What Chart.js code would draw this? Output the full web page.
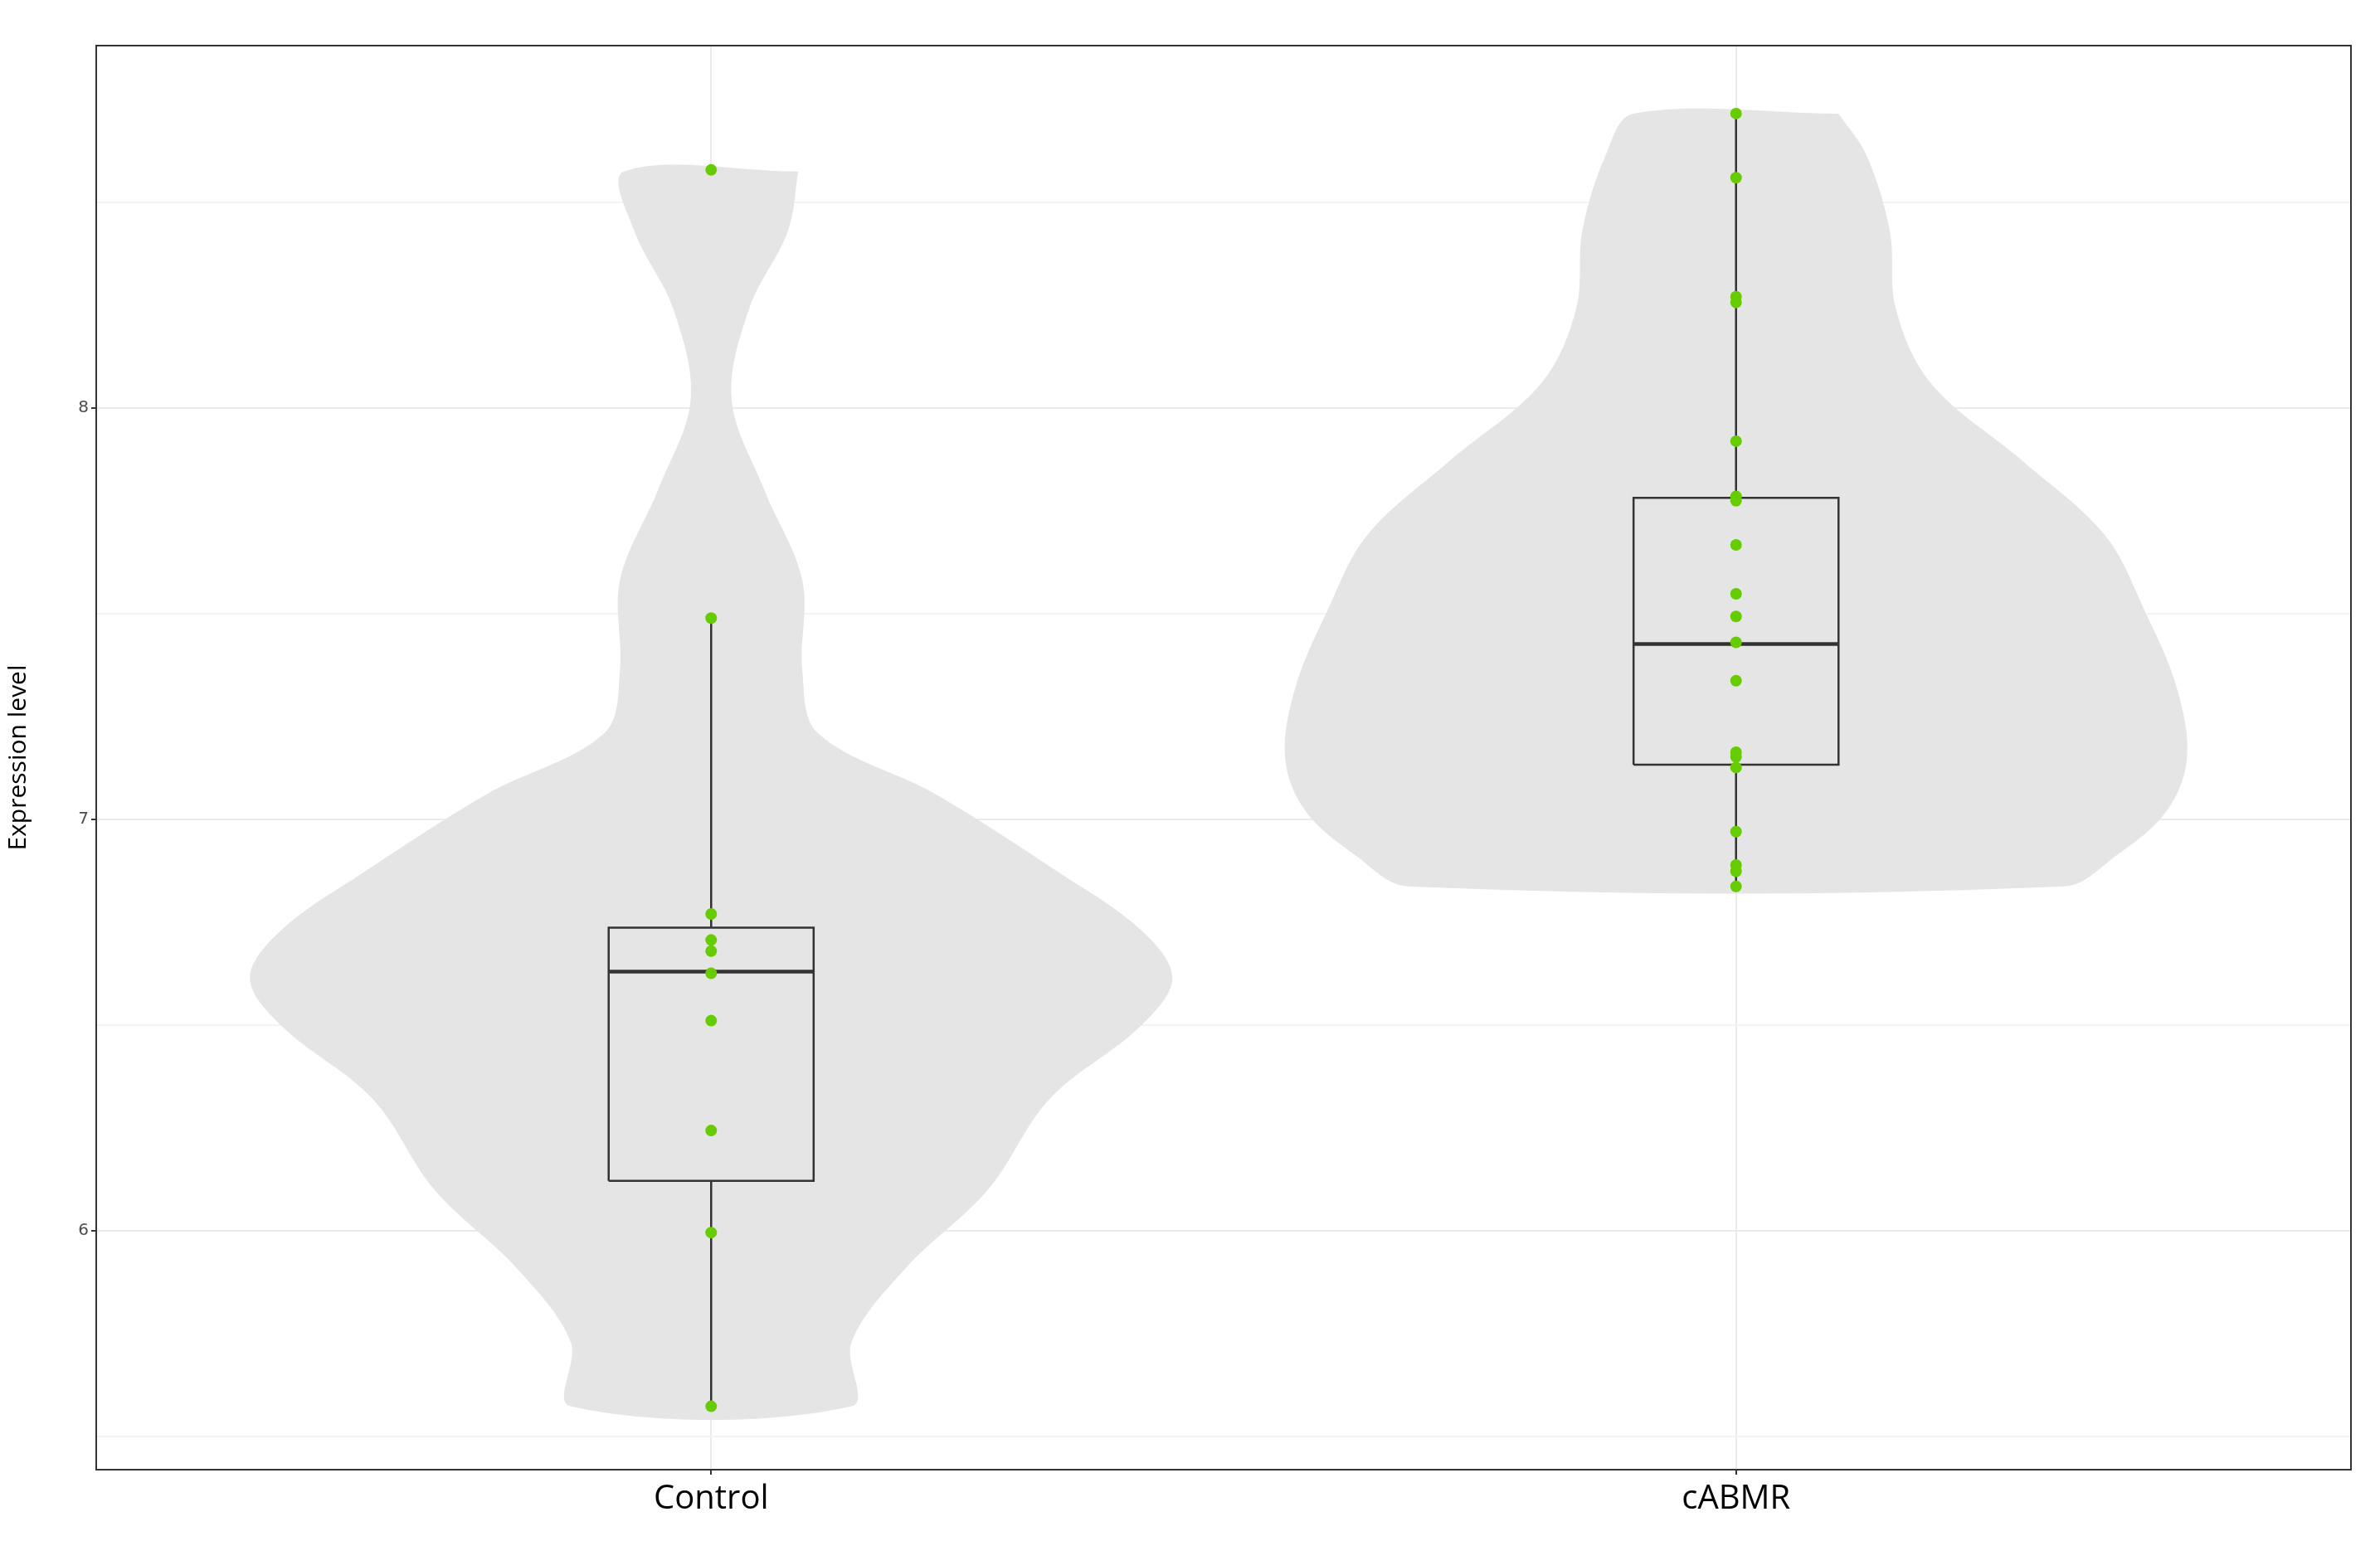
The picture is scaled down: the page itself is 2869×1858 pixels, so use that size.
<!DOCTYPE html>
<html>
<head>
<meta charset="utf-8">
<script src="https://cdn.jsdelivr.net/npm/chart.js@4"></script>
<style>
  html, body { margin: 0; padding: 0; background: #fff; }
  #wrap { width: 2869px; height: 1858px; }
</style>
</head>
<body>
<div id="wrap"><canvas id="myChart"></canvas></div>
<script>
// groups on the x axis (positions 1 and 2)
var groups = ['Control', 'cABMR'];

// violin outlines: level and half width (x units)
var controlLevels = [8.574, 8.43, 8.24, 8.02, 7.80, 7.58, 7.36, 7.21, 7.06, 6.87, 6.73, 6.615, 6.50, 6.32, 6.10, 5.91, 5.73, 5.574];
var controlWidths = [0.085, 0.075, 0.037, 0.02, 0.052, 0.089, 0.089, 0.104, 0.22, 0.34, 0.42, 0.45, 0.42, 0.33, 0.27, 0.19, 0.137, 0.137];
var cabmrLevels = [8.715, 8.615, 8.43, 8.24, 8.06, 7.87, 7.69, 7.50, 7.32, 7.15, 7.02, 6.91, 6.837];
var cabmrWidths = [0.10, 0.127, 0.15, 0.156, 0.19, 0.28, 0.36, 0.40, 0.43, 0.44, 0.42, 0.37, 0.32];

// raw values
var controlValues = [8.578, 7.489, 6.77, 6.707, 6.68, 6.626, 6.511, 6.244, 5.996, 5.574];
var cabmrValues = [8.715, 8.559, 8.27, 8.256, 7.919, 7.785, 7.774, 7.667, 7.548, 7.493, 7.43, 7.337, 7.163, 7.152, 7.126, 6.97, 6.889, 6.874, 6.837];

// box stats: [whisker low, Q1, median, Q3, whisker high]
var controlBox = [5.574, 6.122, 6.63, 6.737, 7.489];
var cabmrBox = [6.837, 7.133, 7.426, 7.781, 8.715];

var yTicks = [5.5, 6, 6.5, 7, 7.5, 8, 8.5];

function violin(pos, levels, widths) {
  var pts = [];
  for (var i = 0; i < levels.length; i++) pts.push({x: pos + widths[i], y: levels[i]});
  for (var j = levels.length - 1; j >= 0; j--) pts.push({x: pos - widths[j], y: levels[j]});
  pts.push(pts[0]);
  return pts;
}
function boxRect(pos, b) {
  var w = 0.1;
  return [{x: pos - w, y: b[1]}, {x: pos + w, y: b[1]}, {x: pos + w, y: b[3]}, {x: pos - w, y: b[3]}, {x: pos - w, y: b[1]}];
}
function whiskers(pos, b) {
  return [{x: pos, y: b[0]}, {x: pos, y: b[1]}, {x: NaN, y: NaN}, {x: pos, y: b[3]}, {x: pos, y: b[4]}];
}
function median(pos, b) {
  return [{x: pos - 0.1, y: b[2]}, {x: pos + 0.1, y: b[2]}];
}
function dots(pos, vals) { return vals.map(function (v) { return {x: pos, y: v}; }); }

var lineDs = function (data, width, order) {
  return {data: data, showLine: true, pointRadius: 0, borderColor: '#333333', borderWidth: width, fill: false, order: order, spanGaps: false};
};

var frame = {
  id: 'frame',
  afterDraw: function (chart) {
    var a = chart.chartArea, c = chart.ctx;
    c.save(); c.strokeStyle = '#333333'; c.lineWidth = 2;
    c.strokeRect(a.left, a.top, a.right - a.left, a.bottom - a.top);
    c.restore();
  }
};

new Chart(document.getElementById('myChart'), {
  type: 'scatter',
  data: {
    datasets: [
      {data: violin(1, controlLevels, controlWidths), showLine: true, pointRadius: 0, borderWidth: 0, tension: 0.35, backgroundColor: '#e5e5e5', fill: 'shape', order: 5},
      {data: violin(2, cabmrLevels, cabmrWidths), showLine: true, pointRadius: 0, borderWidth: 0, tension: 0.35, backgroundColor: '#e5e5e5', fill: 'shape', order: 5},
      lineDs(boxRect(1, controlBox), 2.5, 3),
      lineDs(boxRect(2, cabmrBox), 2.5, 3),
      lineDs(whiskers(1, controlBox), 2.5, 3),
      lineDs(whiskers(2, cabmrBox), 2.5, 3),
      lineDs(median(1, controlBox), 4.5, 3),
      lineDs(median(2, cabmrBox), 4.5, 3),
      {data: dots(1, controlValues), pointRadius: 7, pointBackgroundColor: '#66cc00', pointBorderWidth: 0, order: 1},
      {data: dots(2, cabmrValues), pointRadius: 7, pointBackgroundColor: '#66cc00', pointBorderWidth: 0, order: 1}
    ]
  },
  options: {
    responsive: true,
    maintainAspectRatio: false,
    animation: false,
    layout: {padding: {top: 55, right: 35, left: 0, bottom: 0}},
    plugins: {legend: {display: false}, tooltip: {enabled: false}},
    scales: {
      x: {
        type: 'linear', min: 0.4, max: 2.6,
        afterBuildTicks: function (s) { s.ticks = [{value: 1}, {value: 2}]; },
        afterFit: function (s) { s.height = 86; },
        ticks: {
          callback: function (v) { return groups[v - 1]; },
          font: {family: 'Open Sans', size: 40}, color: '#000', padding: 6
        },
        grid: {color: '#ebebeb', lineWidth: 2, drawTicks: true, tickLength: 6, tickColor: '#333'},
        border: {display: false}
      },
      y: {
        min: 5.42, max: 8.88,
        afterBuildTicks: function (s) { s.ticks = yTicks.map(function (v) { return {value: v}; }); },
        afterFit: function (s) { s.width = 116; },
        ticks: {
          callback: function (v) { return v % 1 === 0 ? String(v) : ''; },
          font: {family: 'DejaVu Sans', size: 20}, color: '#4d4d4d'
        },
        grid: {
          color: function (c) { return c.tick && c.tick.value % 1 === 0 ? '#ebebeb' : '#f4f4f4'; },
          lineWidth: 2, tickLength: 6,
          tickColor: function (c) { return c.tick && c.tick.value % 1 === 0 ? '#333' : 'rgba(0,0,0,0)'; }
        },
        border: {display: false},
        title: {display: true, text: 'Expression level', font: {family: 'Open Sans', size: 30}, color: '#000', padding: 4}
      }
    }
  },
  plugins: [frame]
});
</script>
</body>
</html>
